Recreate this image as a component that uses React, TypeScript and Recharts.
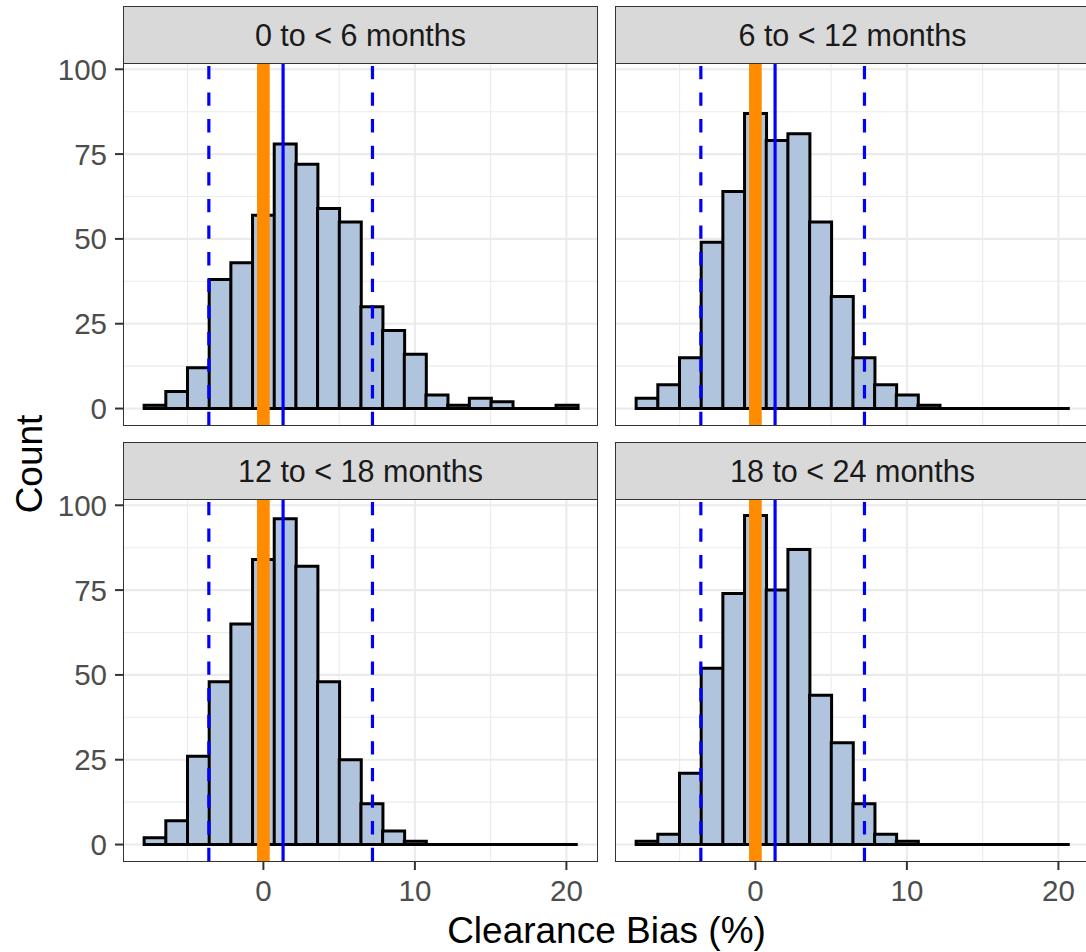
import React from 'react';
import { ComposedChart, Bar, XAxis, YAxis, CartesianGrid, ReferenceLine } from 'recharts';

// histogram bins (centres, %), shared by every facet
const BIN_CENTERS = [
  -7.155, -5.724, -4.293, -2.862, -1.431, 0, 1.431, 2.862, 4.293, 5.724,
  7.155, 8.586, 10.017, 11.448, 12.879, 14.31, 15.741, 17.172, 18.603, 20.034,
];
const BIN_RANGE = [-7.87, 20.75];

const COUNTS_0_6 = [1, 5, 12, 38, 43, 57, 78, 72, 59, 55, 30, 23, 16, 4, 1, 3, 2, 0, 0, 1];
const COUNTS_6_12 = [3, 7, 15, 49, 64, 87, 79, 81, 55, 33, 15, 7, 4, 1, 0, 0, 0, 0, 0, 0];
const COUNTS_12_18 = [2, 7, 26, 48, 65, 84, 96, 82, 48, 25, 12, 4, 1, 0, 0, 0, 0, 0, 0, 0];
const COUNTS_18_24 = [1, 3, 21, 52, 74, 97, 75, 87, 44, 30, 12, 3, 1, 0, 0, 0, 0, 0, 0, 0];

const FACET_LABELS = ['0 to < 6 months', '6 to < 12 months', '12 to < 18 months', '18 to < 24 months'];

const ZERO_LINE = 0;
const MEAN_BIAS = 1.3;
const LIMITS = [-3.6, 7.2];

const X_TICKS = [0, 10, 20];
const X_MINOR = [-5, 5, 15];
const Y_TICKS = [0, 25, 50, 75, 100];
const Y_MINOR = [12.5, 37.5, 62.5, 87.5];

const X_DOMAIN: [number, number] = [-9.2, 22.02];
const Y_DOMAIN: [number, number] = [-4.85, 101.85];

// layout (px)
const PANEL_W = 473;
const PANEL_H = 362;
const COL_X = [124, 616];
const ROW_Y = [63, 499];
const STRIP_H = 56;
const AXIS_W = 124;
const X_AXIS_H = 48;
const PAD = 20;

const FONT = '"Liberation Sans", Arial, Helvetica, sans-serif';
const BORDER = '#333333';

const tickStyle = { fill: '#4D4D4D', fontSize: 29.5, fontFamily: FONT };

function Panel({ counts, label, col, row }: { counts: number[]; label: string; col: number; row: number }) {
  const data = BIN_CENTERS.map((x, i) => ({ x, count: counts[i] }));
  const showY = col === 0;
  const showX = row === 1;

  const chartLeft = showY ? COL_X[col] - AXIS_W : COL_X[col] - 2;
  const chartW = (showY ? AXIS_W : 2) + PANEL_W + 2;
  const chartTop = ROW_Y[row] - PAD;
  const chartH = PAD + PANEL_H + (showX ? X_AXIS_H : 0) + PAD;

  return (
    <>
      <div style={{ position: 'absolute', left: chartLeft, top: chartTop }}>
        <ComposedChart
          width={chartW}
          height={chartH}
          data={data}
          barCategoryGap={0}
          barGap={0}
          margin={{ top: PAD, right: 2, bottom: PAD, left: showY ? 0 : 2 }}
        >
          <CartesianGrid stroke="#EBEBEB" strokeWidth={1.1} horizontalValues={Y_MINOR} verticalValues={X_MINOR} />
          <CartesianGrid stroke="#EBEBEB" strokeWidth={2.1} horizontalValues={Y_TICKS} verticalValues={X_TICKS} />
          <XAxis
            dataKey="x"
            type="number"
            domain={X_DOMAIN}
            allowDataOverflow
            ticks={X_TICKS}
            hide={!showX}
            height={X_AXIS_H}
            axisLine={false}
            tickSize={9}
            tickMargin={10}
            tickLine={{ stroke: BORDER, strokeWidth: 2 }}
            tick={tickStyle}
            interval={0}
          />
          <YAxis
            type="number"
            domain={Y_DOMAIN}
            allowDataOverflow
            ticks={Y_TICKS}
            hide={!showY}
            width={AXIS_W}
            axisLine={false}
            tickSize={9}
            tickMargin={8}
            tickLine={{ stroke: BORDER, strokeWidth: 2 }}
            tick={tickStyle}
            interval={0}
          />
          <Bar dataKey="count" fill="#B0C4DE" stroke="#000000" strokeWidth={3} isAnimationActive={false} />
          <ReferenceLine
            segment={[{ x: BIN_RANGE[0], y: 0 }, { x: BIN_RANGE[1], y: 0 }]}
            stroke="#000000"
            strokeWidth={3}
          />
          <ReferenceLine x={ZERO_LINE} stroke="#FF8C00" strokeWidth={12.7} />
          <ReferenceLine x={MEAN_BIAS} stroke="#0000FF" strokeWidth={3.2} />
          {LIMITS.map((v) => (
            <ReferenceLine key={v} x={v} stroke="#0000FF" strokeWidth={3.2} strokeDasharray="13.3 13.3" />
          ))}
        </ComposedChart>
      </div>
      {/* panel border */}
      <div
        style={{
          position: 'absolute',
          left: COL_X[col] - 0.9,
          top: ROW_Y[row] - 0.9,
          width: PANEL_W + 1.8,
          height: PANEL_H + 1.8,
          border: `1.8px solid ${BORDER}`,
          boxSizing: 'border-box',
          pointerEvents: 'none',
        }}
      />
      {/* facet strip */}
      <div
        style={{
          position: 'absolute',
          left: COL_X[col] - 0.9,
          top: ROW_Y[row] - STRIP_H - 0.9,
          width: PANEL_W + 1.8,
          height: STRIP_H + 1.8,
          border: `1.8px solid ${BORDER}`,
          boxSizing: 'border-box',
          background: '#D9D9D9',
          display: 'flex',
          alignItems: 'center',
          justifyContent: 'center',
          fontFamily: FONT,
          fontSize: 30.5,
          color: '#1A1A1A',
          paddingTop: 1,
        }}
      >
        {label}
      </div>
    </>
  );
}

export default function App() {
  const series = [COUNTS_0_6, COUNTS_6_12, COUNTS_12_18, COUNTS_18_24];
  return (
    <div
      style={{
        position: 'absolute',
        left: 0,
        top: 0,
        width: 1086,
        height: 952,
        overflow: 'hidden',
        background: '#FFFFFF',
      }}
    >
      {series.map((counts, i) => (
        <Panel key={FACET_LABELS[i]} counts={counts} label={FACET_LABELS[i]} col={i % 2} row={Math.floor(i / 2)} />
      ))}
      <svg width={1086} height={952} style={{ position: 'absolute', left: 0, top: 0, pointerEvents: 'none' }}>
        <text x={606.5} y={943} textAnchor="middle" fontFamily={FONT} fontSize={37} fill="#000000">
          Clearance Bias (%)
        </text>
        <text
          transform="translate(41.5, 464) rotate(-90)"
          textAnchor="middle"
          fontFamily={FONT}
          fontSize={37}
          fill="#000000"
        >
          Count
        </text>
      </svg>
    </div>
  );
}
